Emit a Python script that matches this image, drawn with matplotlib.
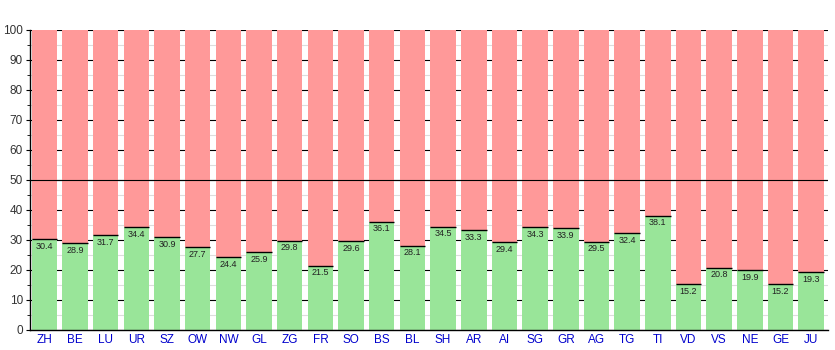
import matplotlib
matplotlib.use("Agg")
import matplotlib.pyplot as plt
from matplotlib.ticker import MultipleLocator
import numpy as np

plt.rcParams["font.family"] = ["Liberation Sans", "DejaVu Sans"]

cantons = ["ZH","BE","LU","UR","SZ","OW","NW","GL","ZG","FR","SO","BS","BL","SH",
           "AR","AI","SG","GR","AG","TG","TI","VD","VS","NE","GE","JU"]
yes_vals = [30.4,28.9,31.7,34.4,30.9,27.7,24.4,25.9,29.8,21.5,29.6,36.1,28.1,34.5,
            33.3,29.4,34.3,33.9,29.5,32.4,38.1,15.2,20.8,19.9,15.2,19.3]
total = 100

fig = plt.figure(figsize=(8.35, 3.5), dpi=100)
ax = fig.add_axes([30/835, 20/350, 798/835, 300/350])

x = np.arange(len(cantons))
no_vals = [total - v for v in yes_vals]
w = 0.83
ax.bar(x, yes_vals, width=w, color="#99e599", zorder=2, linewidth=0)
ax.bar(x, no_vals, bottom=yes_vals, width=w, color="#ff9999", zorder=2, linewidth=0)
for xi, v in zip(x, yes_vals):
    ax.plot([xi - w/2, xi + w/2], [v, v], color="black", lw=1.0, zorder=3,
            solid_capstyle="butt")
    ax.annotate(f"{v:.1f}", (xi, v), xytext=(0, -2), textcoords="offset points",
                ha="center", va="top", fontsize=6.5, color="#222222", zorder=4)

ax.axhline(50, color="black", lw=0.8, zorder=3)

ax.set_ylim(0, 100)
ax.set_xlim(-0.47, len(cantons) - 0.45)
ax.yaxis.set_major_locator(MultipleLocator(10))
ax.yaxis.set_minor_locator(MultipleLocator(5))
ax.grid(axis="y", which="major", color="black", lw=0.8, zorder=0)
ax.grid(axis="y", which="minor", color="#dddddd", lw=0.8, zorder=0)
ax.set_axisbelow(True)
ax.set_xticks(x)
ax.set_xticklabels(cantons, color="#0000cc", fontsize=8.5)
ax.tick_params(axis="x", length=0, pad=3)
ax.tick_params(axis="y", which="major", length=3, labelsize=8.5, labelcolor="#333333", pad=2)
ax.tick_params(axis="y", which="minor", length=2)
for s in ["top", "right"]:
    ax.spines[s].set_visible(False)
ax.spines["left"].set_linewidth(1)
ax.spines["bottom"].set_linewidth(1)

fig.savefig("out.png", dpi=100)
